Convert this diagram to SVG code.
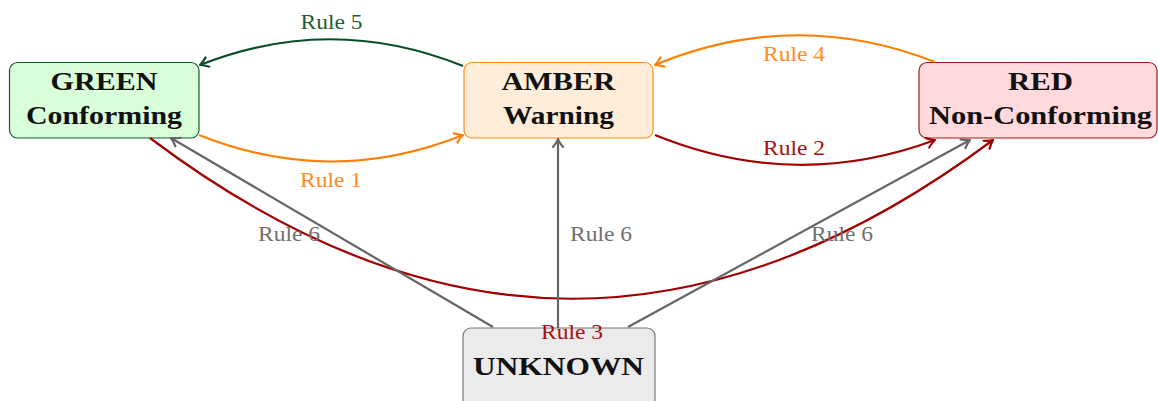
<svg xmlns="http://www.w3.org/2000/svg" width="1158" height="401" viewBox="0 0 1158 401">
<style>
.node rect{stroke-width:1.2}
.nt{font-family:"Liberation Serif","Times New Roman",serif;font-weight:bold;font-size:25px;fill:#111;text-anchor:middle}
.lbl{font-family:"Liberation Serif","Times New Roman",serif;font-size:21px;text-anchor:middle}
.e{fill:none;stroke-width:2.2}
.ah{fill:none;stroke-width:2.2;stroke-linecap:round;stroke-linejoin:round}
</style>
<defs>
<path id="head" d="M-8,-5 Q-3,-1 0,0 Q-3,1 -8,5"/>
</defs>

<g id="green" class="node">
<rect x="9.5" y="62.5" width="189.5" height="75.5" rx="8" fill="#d9ffd9" stroke="#0f5c2e"/>
<text class="nt" x="104" y="90" textLength="107" lengthAdjust="spacingAndGlyphs">GREEN</text>
<text class="nt" x="104" y="124" textLength="156" lengthAdjust="spacingAndGlyphs">Conforming</text>
</g>
<g id="amber" class="node">
<rect x="464" y="62.5" width="189" height="75.5" rx="8" fill="#ffecd9" stroke="#ff8c1a"/>
<text class="nt" x="558.5" y="90" textLength="114" lengthAdjust="spacingAndGlyphs">AMBER</text>
<text class="nt" x="558.5" y="124" textLength="111" lengthAdjust="spacingAndGlyphs">Warning</text>
</g>
<g id="red" class="node">
<rect x="919" y="62.5" width="238" height="75.5" rx="8" fill="#ffd9dc" stroke="#a31a1a"/>
<text class="nt" x="1040.5" y="89.5" textLength="65" lengthAdjust="spacingAndGlyphs">RED</text>
<text class="nt" x="1040.5" y="123.5" textLength="223" lengthAdjust="spacingAndGlyphs">Non-Conforming</text>
</g>
<g id="unknown" class="node">
<rect x="463" y="328" width="192" height="80" rx="8" fill="#ebebeb" stroke="#777777"/>
<text class="nt" x="558.5" y="375" textLength="171" lengthAdjust="spacingAndGlyphs">UNKNOWN</text>
</g>

<g id="connectors">
<path class="e" d="M150,138 C434,352 709,352 993,140" stroke="#a00000"/>
<use href="#head" class="ah" stroke="#a00000" transform="translate(993,140) rotate(-36.7)"/>
<path class="e" d="M493,327 L171,138" stroke="#666666"/>
<use href="#head" class="ah" stroke="#666666" transform="translate(171,138) rotate(-149.6)"/>
<path class="e" d="M558,328 L558,139" stroke="#666666"/>
<use href="#head" class="ah" stroke="#666666" transform="translate(558,139) rotate(-90)"/>
<path class="e" d="M628,327 L970,140" stroke="#666666"/>
<use href="#head" class="ah" stroke="#666666" transform="translate(970,140) rotate(-28.7)"/>
<path class="e" d="M463,66 Q331,13 200,65" stroke="#0a4d28"/>
<use href="#head" class="ah" stroke="#0a4d28" transform="translate(200,65) rotate(158.4)"/>
<path class="e" d="M199,135 Q331,188 463,135" stroke="#ff8000"/>
<use href="#head" class="ah" stroke="#ff8000" transform="translate(463,135) rotate(-21.9)"/>
<path class="e" d="M935,62 Q795,7 655,65" stroke="#ff8000"/>
<use href="#head" class="ah" stroke="#ff8000" transform="translate(655,65) rotate(157.5)"/>
<path class="e" d="M655,135 Q795,192 935,140" stroke="#a00000"/>
<use href="#head" class="ah" stroke="#a00000" transform="translate(935,140) rotate(-20.4)"/>
<text class="lbl" x="331.5" y="29" fill="#1c5c36" textLength="62" lengthAdjust="spacingAndGlyphs">Rule 5</text>
<text class="lbl" x="331" y="187" fill="#ff8a1f" textLength="62" lengthAdjust="spacingAndGlyphs">Rule 1</text>
<text class="lbl" x="794" y="61" fill="#ff8a1f" textLength="62" lengthAdjust="spacingAndGlyphs">Rule 4</text>
<text class="lbl" x="794" y="155" fill="#a81010" textLength="62" lengthAdjust="spacingAndGlyphs">Rule 2</text>
<text class="lbl" x="289" y="241" fill="#707070" textLength="62" lengthAdjust="spacingAndGlyphs">Rule 6</text>
<text class="lbl" x="601" y="241" fill="#707070" textLength="62" lengthAdjust="spacingAndGlyphs">Rule 6</text>
<text class="lbl" x="842" y="241" fill="#707070" textLength="62" lengthAdjust="spacingAndGlyphs">Rule 6</text>
<text class="lbl" x="572" y="339" fill="#a81010" textLength="62" lengthAdjust="spacingAndGlyphs">Rule 3</text>
</g>
</svg>
